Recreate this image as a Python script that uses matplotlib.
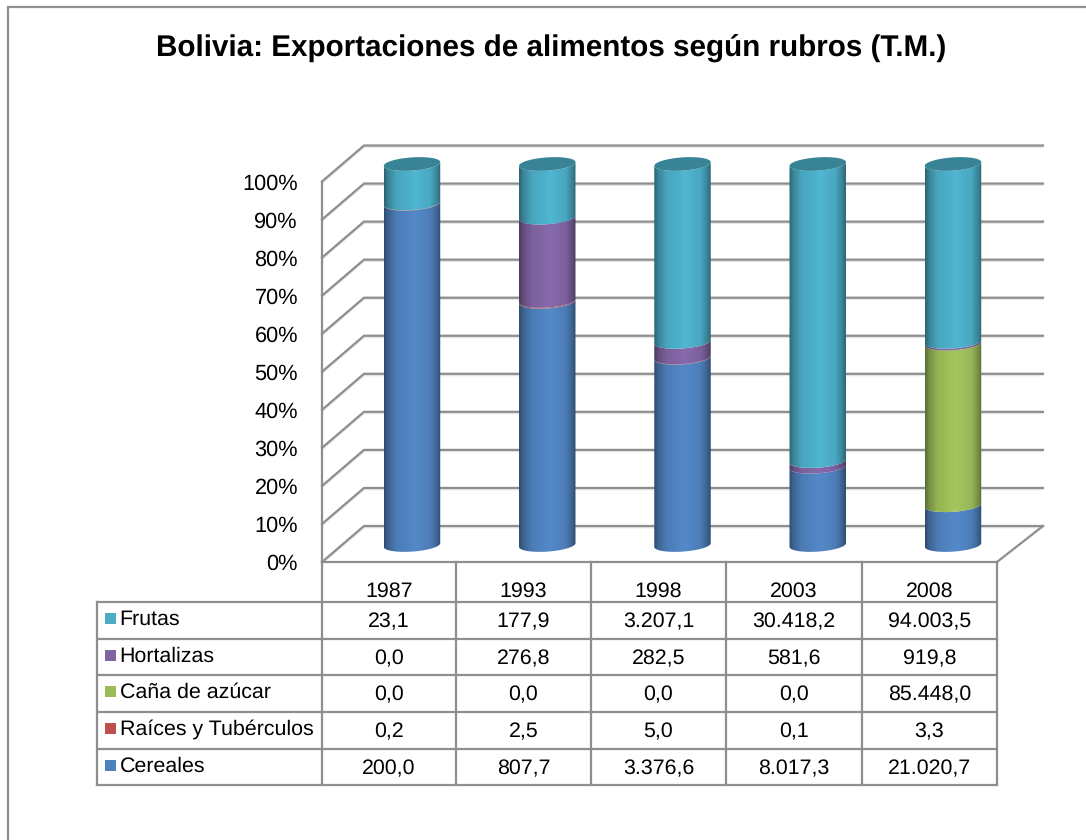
import numpy as np
import matplotlib
matplotlib.use("Agg")
import matplotlib.pyplot as plt
from matplotlib.patches import Polygon, Rectangle
from matplotlib.colors import LinearSegmentedColormap

plt.rcParams['font.family'] = ['Liberation Sans', 'DejaVu Sans']
plt.rcParams['text.hinting'] = 'no_hinting'

# ---- data ----
years = ['1987', '1993', '1998', '2003', '2008']
cereales = [200.0, 807.7, 3376.6, 8017.3, 21020.7]
raices = [0.2, 2.5, 5.0, 0.1, 3.3]
cana = [0.0, 0.0, 0.0, 0.0, 85448.0]
hortalizas = [0.0, 276.8, 282.5, 581.6, 919.8]
frutas = [23.1, 177.9, 3207.1, 30418.2, 94003.5]
cereales_txt = ['200,0', '807,7', '3.376,6', '8.017,3', '21.020,7']
raices_txt = ['0,2', '2,5', '5,0', '0,1', '3,3']
cana_txt = ['0,0', '0,0', '0,0', '0,0', '85.448,0']
hortalizas_txt = ['0,0', '276,8', '282,5', '581,6', '919,8']
frutas_txt = ['23,1', '177,9', '3.207,1', '30.418,2', '94.003,5']
tick_pct = list(range(0, 101, 10))
title = 'Bolivia: Exportaciones de alimentos según rubros (T.M.)'

stack = [('Cereales', cereales, '#4F81BD'), ('Raíces y Tubérculos', raices, '#C0504D'),
         ('Caña de azúcar', cana, '#9BBB59'), ('Hortalizas', hortalizas, '#8064A2'),
         ('Frutas', frutas, '#4BACC6')]
rows = [('Frutas', frutas_txt, '#4BACC6'), ('Hortalizas', hortalizas_txt, '#8064A2'),
        ('Caña de azúcar', cana_txt, '#9BBB59'), ('Raíces y Tubérculos', raices_txt, '#C0504D'),
        ('Cereales', cereales_txt, '#4F81BD')]

W, H = 1086, 840
fig = plt.figure(figsize=(W / 100, H / 100), dpi=100, facecolor='white')

# layout in reference pixels
X0, DX = 412.0, 135.25   # first bar centre, bar spacing
Y0, DY = 545.0, 3.81     # 0 % level at bar centre, pixels per percent
ax = fig.add_axes([0, 0, 1, 1])
ax.set_xlim((0 - X0) / DX, (W - X0) / DX)
ax.set_ylim((Y0 - H) / DY, (Y0 - 0) / DY)
ax.axis('off')

def xd(px): return (px - X0) / DX
def yd(py): return (Y0 - py) / DY

GRID = '#8e8e8e'
def pline(xs, ys, lw=1.6, c=GRID, z=1, shadow=False):
    if shadow:
        ax.plot([xd(x) for x in xs], [yd(y + 1.3) for y in ys], color='#e6e6e6', lw=lw, zorder=z - 0.1,
                solid_capstyle='butt', solid_joinstyle='miter')
    ax.plot([xd(x) for x in xs], [yd(y) for y in ys], color=c, lw=lw, zorder=z,
            solid_capstyle='projecting', solid_joinstyle='miter')

# chart frame
pline([8, 8, 1086], [840, 7, 7], lw=1.6, c='#8f8f8f')

# walls and gridlines
FRONT_0, BACK_0 = 562.0, 526.0
PCT = 3.805
for p in tick_pct:
    yf = FRONT_0 - p * PCT
    yb = BACK_0 - p * PCT
    pline([322, 364, 1043], [yf, yb, yb], shadow=True)
    ax.text(xd(298), yd(yf + 2.5), f'{p}%', ha='right', va='center', fontsize=15.7, color='black')
pline([322, 322], [FRONT_0, FRONT_0 - 100 * PCT])
pline([1043, 997], [BACK_0, FRONT_0])

# cylinders
RX, RY, TILT = 28.3, 6.6, np.deg2rad(-4.0)

def ell(cx_px, cy_px, t):
    x = RX * np.cos(t)
    y = RY * np.sin(t)
    return (cx_px + x * np.cos(TILT) - y * np.sin(TILT),
            cy_px + x * np.sin(TILT) + y * np.cos(TILT))

def shade_cmap(col):
    c = np.array(matplotlib.colors.to_rgb(col))
    stops = [(0.00, 0.58), (0.07, 0.76), (0.22, 0.96), (0.55, 1.06), (0.82, 0.97), (0.94, 0.76), (1.00, 0.58)]
    return LinearSegmentedColormap.from_list('s', [(p, np.clip(c * f, 0, 1)) for p, f in stops])

grad = np.linspace(0, 1, 128).reshape(1, -1)
tt_front = np.linspace(np.pi, 0, 50)   # left to right through the lower side

def band(i, lo, hi, col, z):
    cx = X0 + i * DX
    ylo = Y0 - lo * DY
    yhi = Y0 - hi * DY
    bx, by = ell(cx, ylo, tt_front)
    tx, ty = ell(cx, yhi, tt_front[::-1])
    pts = np.column_stack([[xd(v) for v in np.r_[bx, tx]], [yd(v) for v in np.r_[by, ty]]])
    poly = Polygon(pts, closed=True, fc='none', ec='none', zorder=z)
    ax.add_patch(poly)
    im = ax.imshow(grad, cmap=shade_cmap(col), vmin=0, vmax=1, aspect='auto', interpolation='bilinear',
                   extent=[xd(cx - RX), xd(cx + RX), yd(Y0 + 20), yd(Y0 - 100 * DY - 20)], zorder=z)
    im.set_clip_path(poly)

for i in range(len(years)):
    total = sum(s[1][i] for s in stack)
    cum = 0.0
    last = None
    for j, (name, vals, col) in enumerate(stack):
        pct = vals[i] / total * 100
        if pct <= 0:
            continue
        band(i, cum, cum + pct, col, 3 + j * 0.01)
        cum += pct
        last = col
    cx = X0 + i * DX
    tt = np.linspace(0, 2 * np.pi, 100)
    ex, ey = ell(cx, Y0 - 100 * DY, tt)
    c = np.array(matplotlib.colors.to_rgb(last)) * 0.76
    ax.add_patch(Polygon(np.column_stack([[xd(v) for v in ex], [yd(v) for v in ey]]),
                         closed=True, fc=c, ec='none', zorder=5))

# keep limits after imshow
ax.set_xlim((0 - X0) / DX, (W - X0) / DX)
ax.set_ylim((Y0 - H) / DY, (Y0 - 0) / DY)
ax.set_aspect('auto')

# data table
col_x = [321.5, 456, 591, 726, 862, 997]
row_y = [602, 639, 675, 712, 749, 785]
LEFT = 97
for x in col_x:
    pline([x, x], [FRONT_0, row_y[-1]], z=6)
pline([col_x[0], col_x[-1]], [FRONT_0, FRONT_0], z=6)
pline([LEFT, LEFT], [row_y[0], row_y[-1]], z=6)
for y in row_y:
    pline([LEFT, col_x[-1]], [y, y], z=6)

FS = 15.4
for k, yr in enumerate(years):
    ax.text(xd((col_x[k] + col_x[k + 1]) / 2), yd(591), yr, ha='center', va='center', fontsize=FS, color='black')
for r, (name, txts, col) in enumerate(rows):
    ycent = (row_y[r] + row_y[r + 1]) / 2
    ax.add_patch(Rectangle((xd(105), yd(ycent + 3.5)), 11 / DX, 11 / DY, fc=col, ec='none', zorder=7))
    ax.text(xd(119.5), yd(ycent - 1), name, ha='left', va='center', fontsize=FS, color='black')
    for k, t in enumerate(txts):
        ax.text(xd((col_x[k] + col_x[k + 1]) / 2), yd(ycent + 1.5), t, ha='center', va='center', fontsize=FS, color='black')

ax.text(xd(551.5), yd(48), title, ha='center', va='center', fontsize=21.3, fontweight='bold', color='black')

fig.savefig('out.png', dpi=100, facecolor='white')
